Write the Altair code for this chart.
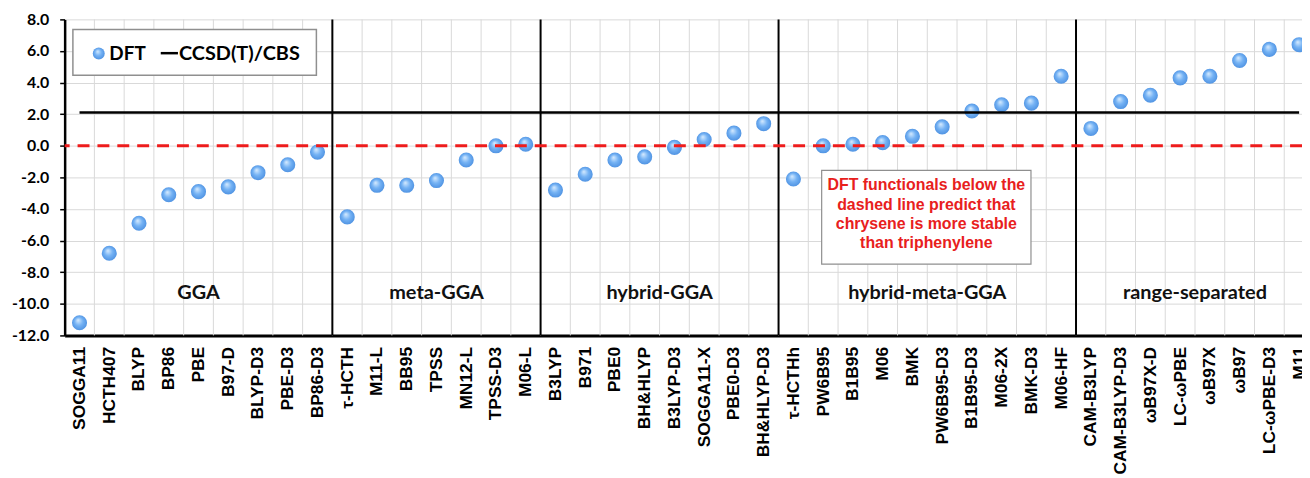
import json
import altair as alt
import pandas as pd

# ---------------- data ----------------
FUNCTIONALS = [
    "SOGGA11", "HCTH407", "BLYP", "BP86", "PBE", "B97-D", "BLYP-D3", "PBE-D3", "BP86-D3",
    "τ-HCTH", "M11-L", "BB95", "TPSS", "MN12-L", "TPSS-D3", "M06-L",
    "B3LYP", "B971", "PBE0", "BH&HLYP", "B3LYP-D3", "SOGGA11-X", "PBE0-D3", "BH&HLYP-D3",
    "τ-HCTHh", "PW6B95", "B1B95", "M06", "BMK", "PW6B95-D3", "B1B95-D3", "M06-2X", "BMK-D3", "M06-HF",
    "CAM-B3LYP", "CAM-B3LYP-D3", "ωB97X-D", "LC-ωPBE", "ωB97X", "ωB97", "LC-ωPBE-D3", "M11",
]
DFT_VALUES = [
    -11.2, -6.8, -4.9, -3.1, -2.9, -2.6, -1.7, -1.2, -0.4,
    -4.5, -2.5, -2.5, -2.2, -0.9, 0.0, 0.1,
    -2.8, -1.8, -0.9, -0.7, -0.1, 0.4, 0.8, 1.4,
    -2.1, 0.0, 0.1, 0.2, 0.6, 1.2, 2.2, 2.6, 2.7, 4.4,
    1.1, 2.8, 3.2, 4.3, 4.4, 5.4, 6.1, 6.4,
]
GROUP_NAMES = ["GGA", "meta-GGA", "hybrid-GGA", "hybrid-meta-GGA", "range-separated"]
GROUP_COUNTS = [9, 7, 8, 10, 8]
CCSD_REF = 2.1
ZERO_REF = 0.0
Y_TICKS = [-12, -10, -8, -6, -4, -2, 0, 2, 4, 6, 8]
LEGEND_ITEMS = ["DFT", "CCSD(T)/CBS"]
NOTE_LINES = [
    "DFT functionals below the",
    "dashed line predict that",
    "chrysene is more stable",
    "than triphenylene",
]

# ---------------- derived tables ----------------
n = len(FUNCTIONALS)
df = pd.DataFrame({"idx": list(range(n)), "name": FUNCTIONALS, "dft": DFT_VALUES})

starts = []
s = 0
for c in GROUP_COUNTS:
    starts.append(s)
    s += c
groups_df = pd.DataFrame({
    "group": GROUP_NAMES,
    "center": [st + c / 2 - 0.5 for st, c in zip(starts, GROUP_COUNTS)],
})
sep_df = pd.DataFrame({"b": [st - 0.5 for st in starts[1:]]})
grid_df = pd.DataFrame({"b": [i + 0.5 for i in range(n - 1)]})
ccsd_df = pd.DataFrame({"x0": [0], "x1": [n - 1], "v": [CCSD_REF]})
zero_df = pd.DataFrame({"v": [ZERO_REF]})
one = pd.DataFrame({"k": [0]})

PLOT_W = 1245
BAND = 29.93
xscale = alt.Scale(domain=[-0.5, -0.5 + PLOT_W / BAND], nice=False, zero=False)
yscale = alt.Scale(domain=[-12, 8], nice=False, zero=False)

label_expr = json.dumps(FUNCTIONALS, ensure_ascii=False) + "[datum.value]"

ball = alt.RadialGradient(
    gradient="radial",
    stops=[
        alt.GradientStop(color="#d8ecff", offset=0),
        alt.GradientStop(color="#74b2f4", offset=0.5),
        alt.GradientStop(color="#4b8fe0", offset=1),
    ],
    x1=0.4, y1=0.32, r1=0, x2=0.5, y2=0.5, r2=0.55,
)

y_axis = alt.Axis(
    values=Y_TICKS,
    labelExpr="(datum.value < 0 ? '-' : '') + format(abs(datum.value), '.1f')",
    labelFont="Lato", labelFontWeight="bold", labelFontSize=16, labelColor="black",
    labelPadding=11, labelOverlap=False,
    tickSize=5, tickColor="black", tickWidth=1.5,
    domainColor="black", domainWidth=2.5,
    grid=True, gridColor="#d9d9d9", gridWidth=1,
    title=None,
)
x_axis = alt.Axis(
    values=list(range(n)),
    labelExpr=label_expr,
    labelAngle=-90, labelAlign="right", labelBaseline="middle",
    labelFont="Liberation Sans", labelFontWeight="bold", labelFontSize=17.5,
    labelColor="black", labelPadding=11, labelOverlap=False, labelBound=False,
    labelFlush=False,
    ticks=False, grid=False,
    domainColor="black", domainWidth=3,
    title=None,
)

# ---------------- layers ----------------
points = alt.Chart(df).mark_circle(size=230, fill=ball, opacity=1, strokeWidth=0).encode(
    x=alt.X("idx:Q", scale=xscale, axis=x_axis),
    y=alt.Y("dft:Q", scale=yscale, axis=y_axis),
)

vgrid = alt.Chart(grid_df).mark_rule(color="#d9d9d9", strokeWidth=1).encode(
    x=alt.X("b:Q", scale=xscale, axis=None)
)

ccsd = alt.Chart(ccsd_df).mark_rule(color="black", strokeWidth=2.5).encode(
    x=alt.X("x0:Q", scale=xscale, axis=None),
    x2="x1:Q",
    y=alt.Y("v:Q", scale=yscale, axis=None),
)

seps = alt.Chart(sep_df).mark_rule(color="black", strokeWidth=2).encode(
    x=alt.X("b:Q", scale=xscale, axis=None)
)

zero = alt.Chart(zero_df).mark_rule(color="#ee1c1c", strokeWidth=3, strokeDash=[12, 8]).encode(
    y=alt.Y("v:Q", scale=yscale, axis=None)
)

glabels = alt.Chart(groups_df).mark_text(
    font="Lato", fontWeight="bold", fontSize=20, color="#111111", baseline="middle", align="center"
).encode(
    x=alt.X("center:Q", scale=xscale, axis=None),
    y=alt.value(275),
    text="group:N",
)

# legend (drawn box)
leg_box = alt.Chart(one).mark_rect(fill="white", stroke="#8f8f8f", strokeWidth=1.5).encode(
    x=alt.value(8.3), x2=alt.value(253.3), y=alt.value(10.3), y2=alt.value(56.3)
)
leg_dot = alt.Chart(one).mark_circle(size=145, fill=ball, opacity=1).encode(
    x=alt.value(34.3), y=alt.value(34.3)
)
leg_line = alt.Chart(one).mark_rule(color="black", strokeWidth=2.5).encode(
    x=alt.value(96.7), x2=alt.value(114), y=alt.value(34)
)
leg_t1 = alt.Chart(one).mark_text(
    text=LEGEND_ITEMS[0], font="Lato", fontWeight="bold", fontSize=19, color="black",
    align="left", baseline="middle"
).encode(x=alt.value(45), y=alt.value(35))
leg_t2 = alt.Chart(one).mark_text(
    text=LEGEND_ITEMS[1], font="Lato", fontWeight="bold", fontSize=20, color="black",
    align="left", baseline="middle"
).encode(x=alt.value(115), y=alt.value(35))

# annotation box
note_box = alt.Chart(one).mark_rect(fill="white", stroke="#8f8f8f", strokeWidth=1.2).encode(
    x=alt.value(761.7), x2=alt.value(972.3), y=alt.value(152), y2=alt.value(246.3)
)
note_txt = alt.Chart(one).mark_text(
    text=NOTE_LINES, font="Liberation Sans", fontWeight="bold", fontSize=16,
    color="#e8201c", align="center", baseline="middle", lineHeight=19.5
).encode(x=alt.value(867), y=alt.value(167))

chart = alt.layer(
    points, vgrid, ccsd, seps, glabels, zero,
    leg_box, leg_dot, leg_line, leg_t1, leg_t2,
    note_box, note_txt,
).resolve_axis(x="independent", y="independent").properties(
    width=PLOT_W,
    height=318,
    padding={"left": 57, "top": 10, "right": 0, "bottom": 142},
    autosize=alt.AutoSizeParams(type="none"),
    background="white",
).configure_view(strokeWidth=0).configure_axis(labelOverlap=False)

chart.save("out.html", embed_options={"renderer": "svg", "actions": False})
